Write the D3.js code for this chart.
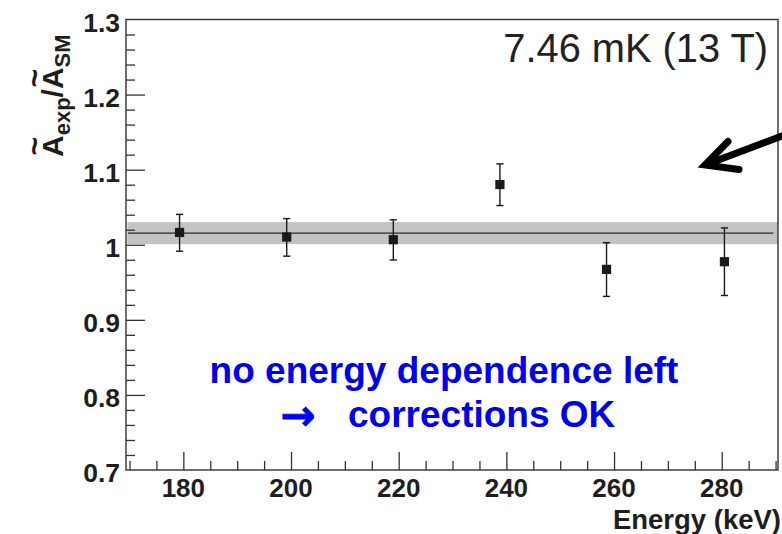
<!DOCTYPE html>
<html>
<head>
<meta charset="utf-8">
<script src="https://cdn.jsdelivr.net/npm/d3@7"></script>
<style>
  html, body { margin: 0; padding: 0; background: #fff; }
  svg { display: block; }
  text { font-family: "Liberation Sans", Arial, Helvetica, sans-serif; }
</style>
</head>
<body>
<script>
// ---------- data ----------
const energies   = [179.3, 199.2, 219.0, 238.8, 258.6, 280.5];
const ratios     = [1.0164, 1.0103, 1.0067, 1.0802, 0.9672, 0.9774];
const errLow     = [0.0250, 0.0255, 0.0270, 0.0280, 0.0360, 0.0450];
const errHigh    = [0.0240, 0.0245, 0.0265, 0.0275, 0.0355, 0.0450];
const fitValue   = 1.0155;
const fitError   = 0.0147;
const fitRange   = [169.7, 289.6];
const bandRange  = [169.6, 290.5];
const xDomain    = [169.35, 290.45];
const yDomain    = [0.7, 1.3];
const xMajorTicks = [180, 200, 220, 240, 260, 280];
const xMinorTicks = [170, 175, 185, 190, 195, 205, 210, 215, 225, 230, 235, 245, 250, 255, 265, 270, 275, 285, 290];
const yMajorTicks = [0.7, 0.8, 0.9, 1.0, 1.1, 1.2, 1.3];
const yTickLabels = ["0.7", "0.8", "0.9", "1", "1.1", "1.2", "1.3"];
const yMinorTicks = [0.72, 0.74, 0.76, 0.78, 0.82, 0.84, 0.86, 0.88, 0.92, 0.94, 0.96, 0.98,
                     1.02, 1.04, 1.06, 1.08, 1.12, 1.14, 1.16, 1.18, 1.22, 1.24, 1.26, 1.28];
const xTitle = "Energy (keV)";
const labelText = "7.46 mK (13 T)";
const noteLine1 = "no energy dependence left";
const noteArrow = "→";
const noteLine2 = "corrections OK";

// ---------- layout ----------
const W = 782, H = 534;
const L = 126, R = 778, T = 19.5, B = 470;
const ink = "#1e1e1e";
const frameColor = "#333";

const svg = d3.select("body").append("svg").attr("width", W).attr("height", H);

const x = d3.scaleLinear().domain(xDomain).range([L, R]);
const y = d3.scaleLinear().domain(yDomain).range([B, T]);

// band
svg.append("rect")
  .attr("x", x(bandRange[0]))
  .attr("width", Math.min(x(bandRange[1]), R) - x(bandRange[0]))
  .attr("y", y(fitValue + fitError))
  .attr("height", y(fitValue - fitError) - y(fitValue + fitError))
  .attr("fill", "#c3c3c3");

// fit line
svg.append("line")
  .attr("x1", x(fitRange[0])).attr("x2", x(fitRange[1]))
  .attr("y1", y(fitValue)).attr("y2", y(fitValue))
  .attr("stroke", "#2a2a2a").attr("stroke-width", 1.4);

// axes via d3 (ticks inside)
const xAxisMajor = d3.axisTop(x).tickValues(xMajorTicks).tickSize(18).tickFormat("");
const xAxisMinor = d3.axisTop(x).tickValues(xMinorTicks).tickSize(9).tickFormat("");
const yAxisMajor = d3.axisRight(y).tickValues(yMajorTicks.filter(v => v > 0.7 && v < 1.3)).tickSize(19).tickFormat("");
const yAxisMinor = d3.axisRight(y).tickValues(yMinorTicks).tickSize(9).tickFormat("");

function styleAxis(g) {
  g.select(".domain").remove();
  g.selectAll("line").attr("stroke", frameColor).attr("stroke-width", 1.3);
}
svg.append("g").attr("transform", `translate(0,${B})`).call(xAxisMajor).call(styleAxis);
svg.append("g").attr("transform", `translate(0,${B})`).call(xAxisMinor).call(styleAxis);
svg.append("g").attr("transform", `translate(${L},0)`).call(yAxisMajor).call(styleAxis);
svg.append("g").attr("transform", `translate(${L},0)`).call(yAxisMinor).call(styleAxis);

// frame
svg.append("rect")
  .attr("x", L).attr("y", T).attr("width", R - L).attr("height", B - T)
  .attr("fill", "none").attr("stroke", frameColor).attr("stroke-width", 1.4);

// tick labels
svg.append("g").selectAll("text").data(xMajorTicks).join("text")
  .attr("x", d => x(d)).attr("y", 496.5)
  .attr("text-anchor", "middle")
  .attr("font-size", 26).attr("font-weight", "bold").attr("fill", ink)
  .text(d => d);

svg.append("g").selectAll("text").data(yMajorTicks).join("text")
  .attr("x", L - 6).attr("y", d => y(d) + 12)
  .attr("text-anchor", "end")
  .attr("font-size", 26.5).attr("font-weight", "bold").attr("fill", ink)
  .text((d, i) => yTickLabels[i]);

// x title
svg.append("text")
  .attr("x", 781).attr("y", 529)
  .attr("text-anchor", "end")
  .attr("font-size", 27.5).attr("font-weight", "bold").attr("fill", ink)
  .text(xTitle);

// y title (rotated) with tildes
const yt = svg.append("text")
  .attr("transform", "translate(63,157) rotate(-90)")
  .attr("font-weight", "bold").attr("fill", ink).attr("font-size", 30);
yt.append("tspan").text("A");
yt.append("tspan").attr("font-size", 22).attr("dy", 7).text("exp");
yt.append("tspan").attr("dy", -7).text("/");
yt.append("tspan").text("A");
yt.append("tspan").attr("font-size", 22).attr("dy", 7).text("SM");
const ytNode = yt.node();
[0, 5].forEach(ci => {
  const s = ytNode.getStartPositionOfChar(ci).x;
  const e = ytNode.getEndPositionOfChar(ci).x;
  svg.append("text")
    .attr("transform", `translate(63,157) rotate(-90)`)
    .attr("x", (s + e) / 2).attr("y", -18)
    .attr("text-anchor", "middle")
    .attr("font-size", 32).attr("font-weight", "bold").attr("fill", ink)
    .text("~");
});

// error bars
const pts = energies.map((e, i) => ({ e, v: ratios[i], lo: ratios[i] - errLow[i], hi: ratios[i] + errHigh[i] }));
const eb = svg.append("g").attr("stroke", "#1a1a1a").attr("stroke-width", 1.4);
eb.selectAll(".v").data(pts).join("line")
  .attr("x1", d => x(d.e)).attr("x2", d => x(d.e))
  .attr("y1", d => y(d.lo)).attr("y2", d => y(d.hi));
eb.selectAll(".ct").data(pts).join("line")
  .attr("x1", d => x(d.e) - 3.6).attr("x2", d => x(d.e) + 3.6)
  .attr("y1", d => y(d.hi)).attr("y2", d => y(d.hi));
eb.selectAll(".cb").data(pts).join("line")
  .attr("x1", d => x(d.e) - 3.6).attr("x2", d => x(d.e) + 3.6)
  .attr("y1", d => y(d.lo)).attr("y2", d => y(d.lo));

// markers
svg.append("g").selectAll("rect").data(pts).join("rect")
  .attr("x", d => x(d.e) - 4.6).attr("y", d => y(d.v) - 4.6)
  .attr("width", 9.2).attr("height", 9.2)
  .attr("fill", "#1a1a1a");

// temperature label
svg.append("text")
  .attr("x", 768).attr("y", 62)
  .attr("text-anchor", "end")
  .attr("font-size", 39.8).attr("fill", "#222")
  .text(labelText);

// annotation arrow (black, thick)
const arrowPath = d3.path();
arrowPath.moveTo(790, 133);
arrowPath.lineTo(705, 165);
arrowPath.moveTo(728, 141.5);
arrowPath.lineTo(705, 165);
arrowPath.lineTo(739, 169.5);
svg.append("path")
  .attr("d", arrowPath.toString())
  .attr("fill", "none").attr("stroke", "#000").attr("stroke-width", 7)
  .attr("stroke-linecap", "round").attr("stroke-linejoin", "miter");

// blue note
svg.append("text")
  .attr("x", 444).attr("y", 382.5)
  .attr("text-anchor", "middle")
  .attr("font-size", 37).attr("font-weight", "bold").attr("fill", "#0000f0")
  .text(noteLine1);
svg.append("text")
  .attr("x", 298).attr("y", 430)
  .attr("text-anchor", "middle")
  .style("font-family", "'DejaVu Sans', sans-serif")
  .attr("font-size", 42).attr("font-weight", "bold").attr("fill", "#0000f0")
  .attr("stroke", "#0000f0").attr("stroke-width", 0.8)
  .text(noteArrow);
svg.append("text")
  .attr("x", 348).attr("y", 427)
  .attr("font-size", 37).attr("font-weight", "bold").attr("fill", "#0000f0")
  .text(noteLine2);
</script>
</body>
</html>
